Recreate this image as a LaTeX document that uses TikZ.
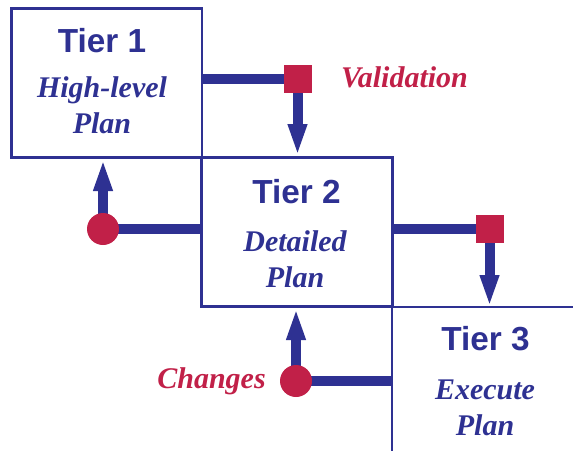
\documentclass[tikz,border=0pt]{standalone}
\usepackage{fontspec}
\setmainfont{Liberation Serif}
\setsansfont{Liberation Sans}
\usetikzlibrary{arrows.meta}

\definecolor{tierblue}{RGB}{46,49,146}
\definecolor{markred}{RGB}{193,32,72}

\tikzset{
	tierbox/.style={draw=tierblue, line width=2pt, minimum width=143pt, minimum height=112pt},
	tierline/.style={draw=tierblue, line width=2pt},
	link/.style={draw=tierblue, line width=7.5pt},
	linkarrow/.style={link, -{Triangle[length=24pt,width=13pt]}},
	tiertitle/.style={text=tierblue, font=\sffamily\bfseries\fontsize{25}{30}\selectfont, anchor=base},
	tiertext/.style={text=tierblue, font=\bfseries\itshape\fontsize{22.5}{27}\selectfont, align=center, anchor=base},
	marktext/.style={text=markred, font=\bfseries\itshape\fontsize{22.5}{27}\selectfont, anchor=base},
	valsq/.style={fill=markred, minimum size=21pt, inner sep=0pt},
	chgdot/.style={circle, fill=markred, minimum size=24pt, inner sep=0pt}}
\tikzset{every picture/.style={line width=0.75pt}}

\begin{document}
\begin{tikzpicture}[x=0.75pt,y=0.75pt,yscale=-1,xscale=1]
	\useasboundingbox (0,0) rectangle (573,451);

	%Shape: Tier boxes
	\node[tierbox] (tierA) at (106.5,83) {};
	\node[tierbox] (tierB) at (297,232) {};
	\coordinate (tierC) at (392,307);
	\draw[tierline] (573,307) -- (tierC) -- (392,451);

	% marker places
	\coordinate (valA) at (297.5,79);
	\coordinate (valB) at (489.5,229);
	\coordinate (chgA) at (103,229);
	\coordinate (chgB) at (296,381);

	%Straight Lines
	\draw[link] (valA) -- (valA -| tierA.east);
	\draw[linkarrow] (valA) -- (valA |- tierB.north);
	\draw[link] (valB) -- (valB -| tierB.east);
	\draw[linkarrow] (valB) -- (valB |- tierC);
	\draw[link] (chgA) -- (chgA -| tierB.west);
	\draw[linkarrow] (chgA) -- (chgA |- tierA.south);
	\draw[link] (chgB) -- (chgB -| tierC);
	\draw[linkarrow] (chgB) -- (chgB |- tierB.south);

	%Shape: markers
	\node[valsq] (valAsq) at (valA) {};
	\node[valsq] (valBsq) at (valB) {};
	\node[chgdot] (chgAdot) at (chgA) {};
	\node[chgdot] (chgBdot) at (chgB) {};

	% Text Node
	\node[tiertitle] (tierAtitle) at (102,52) {Tier 1};
	% Text Node (base is the last line)
	\node[tiertext] (tierAtext) at (102,133) {High-level\\Plan};
	% Text Node
	\node[tiertitle] (tierBtitle) at (296.5,203) {Tier 2};
	% Text Node
	\node[tiertext] (tierBtext) at (295,287) {Detailed\\Plan};
	% Text Node
	\node[tiertitle] (tierCtitle) at (485.5,350) {Tier 3};
	% Text Node
	\node[tiertext] (tierCtext) at (485,435) {Execute\\Plan};
	% Text Node
	\node[marktext] (valtext) at (404.5,87) {Validation};
	% Text Node
	\node[marktext] (chgtext) at (211.5,388) {Changes};

\end{tikzpicture}
\end{document}
